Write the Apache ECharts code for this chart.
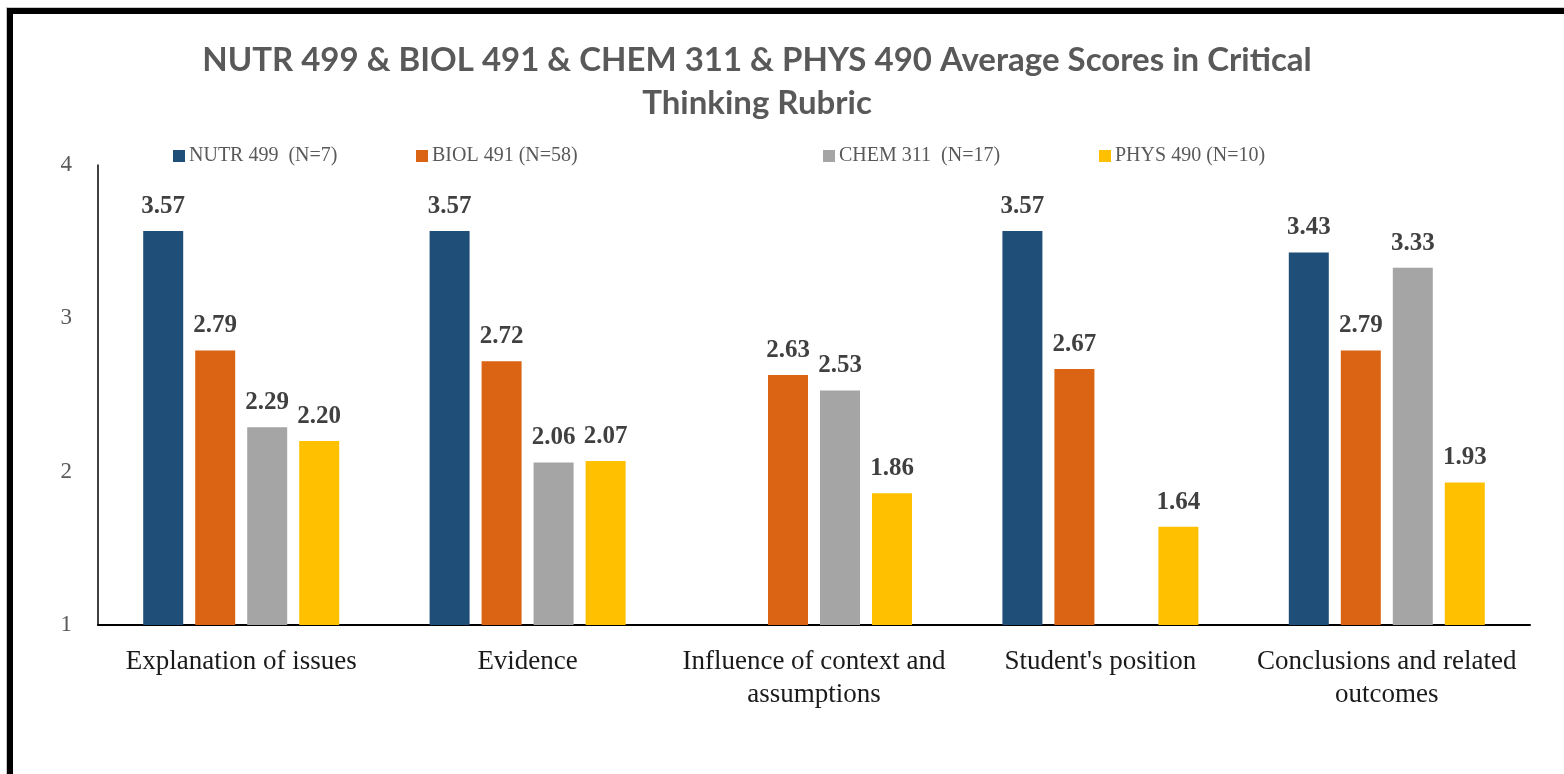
<!DOCTYPE html>
<html>
<head>
<meta charset="utf-8">
<script src="https://cdn.jsdelivr.net/npm/echarts@6/dist/echarts.min.js"></script>
<style>
  html, body { margin: 0; padding: 0; background: #fff; overflow: hidden; }
  #chart { width: 1564px; height: 774px; }
  #frame {
    position: absolute; left: 7px; top: 8px; width: 1552px; height: 820px;
    border-left: 6px solid #000; border-top: 6px solid #000; border-right: 5px solid #000;
    outline: 1px solid #c8c8c8; pointer-events: none;
  }
</style>
</head>
<body>
<div id="chart"></div>
<div id="frame"></div>
<script>
var categories = ['Explanation of issues', 'Evidence', 'Influence of context and\nassumptions', "Student's position", 'Conclusions and related\noutcomes']
var seriesNames = ['NUTR 499  (N=7)', 'BIOL 491 (N=58)', 'CHEM 311  (N=17)', 'PHYS 490 (N=10)']
var nutr = [3.57, 3.57, null, 3.57, 3.43]
var biol = [2.79, 2.72, 2.63, 2.67, 2.79]
var chem = [2.29, 2.06, 2.53, null, 3.33]
var phys = [2.20, 2.07, 1.86, 1.64, 1.93]
var colors = ['#1F4E79', '#DA6314', '#A5A5A5', '#FFC000']
var legendLeft = [168, 411, 818, 1094]

var chart = echarts.init(document.getElementById('chart'))

var serif = '"Liberation Serif", "DejaVu Serif", serif'
var values = [nutr, biol, chem, phys]

var series = values.map(function (v, i) {
    return {
        name: seriesNames[i],
        type: 'bar',
        barWidth: 40,
        barGap: '30%',
        itemStyle: { color: colors[i] },
        label: {
            show: true,
            position: 'top',
            distance: 12,
            color: '#404040',
            fontFamily: serif,
            fontWeight: 'bold',
            fontSize: 25,
            formatter: function (p) { return p.value == null ? '' : Number(p.value).toFixed(2) }
        },
        data: v
    }
})

var legends = seriesNames.map(function (n, i) {
    return {
        data: [n],
        left: legendLeft[i],
        top: 141,
        itemWidth: 12,
        itemHeight: 12,
        itemGap: 5,
        icon: 'rect',
        textStyle: { fontFamily: serif, fontSize: 20, color: '#595959', padding: [0, 0, 0, -1] }
    }
})

var option = {
    animation: false,
    title: {
        text: 'NUTR 499 & BIOL 491 & CHEM 311 & PHYS 490 Average Scores in Critical\nThinking Rubric',
        left: 752,
        top: 34,
        textAlign: 'center',
        textStyle: {
            fontFamily: 'Lato, "Open Sans", sans-serif',
            fontWeight: 'bold',
            fontSize: 33,
            lineHeight: 43,
            color: '#595959'
        }
    },
    legend: legends,
    grid: { left: 98, right: 34, top: 165, bottom: 149, containLabel: false },
    xAxis: {
        type: 'category',
        data: categories,
        axisLine: { lineStyle: { color: '#000', width: 2 } },
        axisTick: { show: false },
        axisLabel: {
            margin: 20,
            fontFamily: serif,
            fontSize: 27,
            lineHeight: 33,
            color: '#1a1a1a',
            interval: 0
        }
    },
    yAxis: {
        type: 'value',
        min: 1,
        max: 4,
        interval: 1,
        splitLine: { show: false },
        axisTick: { show: false },
        axisLine: { show: true, lineStyle: { color: '#000', width: 1.5 } },
        axisLabel: {
            margin: 26,
            fontFamily: serif,
            fontSize: 23,
            color: '#595959'
        }
    },
    series: series
}

chart.setOption(option)
</script>
</body>
</html>
